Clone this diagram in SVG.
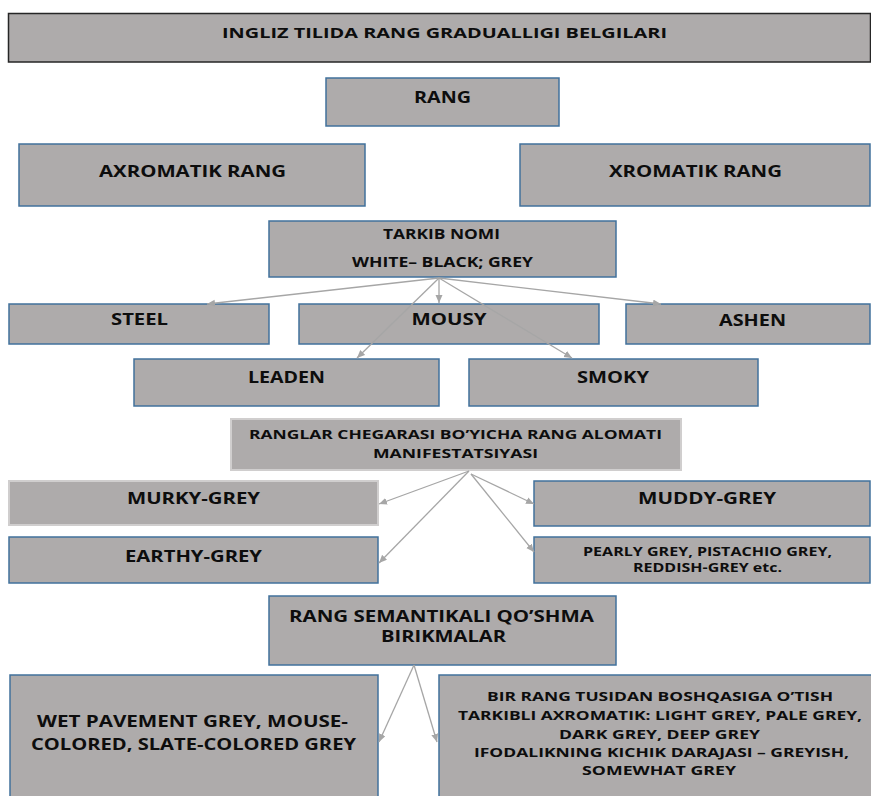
<svg xmlns="http://www.w3.org/2000/svg" width="871" height="796" viewBox="0 0 871 796">
<defs>
<style>
.b{fill:#AEABAB;stroke:#41719C;stroke-width:1.5}
.g{fill:#AEABAB;stroke:#D0CECE;stroke-width:2}
.d{fill:#AEABAB;stroke:#262626;stroke-width:1.5}
text{font-family:"Open Sans","Liberation Sans",sans-serif;font-weight:700;fill:#0D0D0D;text-anchor:middle}
.c line{stroke:#A6A6A6;stroke-width:1.3;marker-end:url(#ah)}
</style>
<marker id="ah" markerUnits="userSpaceOnUse" markerWidth="9" markerHeight="8" refX="8" refY="3.5" orient="auto">
<path d="M0,0 L8,3.5 L0,7 z" fill="#A6A6A6"/>
</marker>
</defs>
<rect width="871" height="796" fill="#FFFFFF"/>
<g id="title"><rect class="d" x="8.5" y="13.5" width="862" height="48.5"/><text x="444.5" y="38.3" font-size="15" textLength="445" lengthAdjust="spacingAndGlyphs">INGLIZ TILIDA RANG GRADUALLIGI BELGILARI</text></g>
<g id="rang"><rect class="b" x="326" y="78" width="233" height="48"/><text x="442.5" y="103" font-size="15.5" textLength="57" lengthAdjust="spacingAndGlyphs">RANG</text></g>
<g id="axromatik"><rect class="b" x="19" y="144" width="346" height="62"/><text x="192.5" y="177" font-size="16" textLength="187" lengthAdjust="spacingAndGlyphs">AXROMATIK RANG</text></g>
<g id="xromatik"><rect class="b" x="520" y="144" width="350" height="62"/><text x="695.5" y="177" font-size="16" textLength="173" lengthAdjust="spacingAndGlyphs">XROMATIK RANG</text></g>
<g id="tarkib"><rect class="b" x="269" y="221" width="347" height="56"/><text x="441.5" y="239" font-size="13.5" textLength="117" lengthAdjust="spacingAndGlyphs">TARKIB NOMI</text><text x="442.5" y="267" font-size="13.5" textLength="181" lengthAdjust="spacingAndGlyphs">WHITE– BLACK; GREY</text></g>
<g id="steel"><rect class="b" x="9" y="304" width="260" height="40"/><text x="139.5" y="325" font-size="15.5" textLength="57" lengthAdjust="spacingAndGlyphs">STEEL</text></g>
<g id="mousy"><rect class="b" x="299" y="304" width="300" height="40"/><text x="449" y="325" font-size="15.5" textLength="75" lengthAdjust="spacingAndGlyphs">MOUSY</text></g>
<g id="ashen"><rect class="b" x="626" y="304" width="244" height="40"/><text x="752.5" y="325.5" font-size="15.5" textLength="67" lengthAdjust="spacingAndGlyphs">ASHEN</text></g>
<g id="leaden"><rect class="b" x="134" y="359" width="305" height="47"/><text x="286.5" y="383" font-size="15.5" textLength="77" lengthAdjust="spacingAndGlyphs">LEADEN</text></g>
<g id="smoky"><rect class="b" x="469" y="359" width="289" height="47"/><text x="613" y="383" font-size="15.5" textLength="72" lengthAdjust="spacingAndGlyphs">SMOKY</text></g>
<g id="ranglar"><rect class="g" x="231" y="419" width="450" height="51"/><text x="455.5" y="439" font-size="12" textLength="413" lengthAdjust="spacingAndGlyphs">RANGLAR CHEGARASI BO’YICHA RANG ALOMATI</text><text x="455.5" y="457.5" font-size="12" textLength="165" lengthAdjust="spacingAndGlyphs">MANIFESTATSIYASI</text></g>
<g id="murky"><rect class="g" x="9" y="481" width="369" height="44"/><text x="193.5" y="504" font-size="15.5" textLength="133" lengthAdjust="spacingAndGlyphs">MURKY-GREY</text></g>
<g id="muddy"><rect class="b" x="534" y="481" width="336" height="45"/><text x="707" y="503.5" font-size="15.5" textLength="138" lengthAdjust="spacingAndGlyphs">MUDDY-GREY</text></g>
<g id="earthy"><rect class="b" x="9" y="537" width="369" height="46"/><text x="193.5" y="562" font-size="15.5" textLength="137" lengthAdjust="spacingAndGlyphs">EARTHY-GREY</text></g>
<g id="pearly"><rect class="b" x="534" y="537" width="336" height="46"/><text x="707.5" y="555.5" font-size="12" textLength="249" lengthAdjust="spacingAndGlyphs">PEARLY GREY, PISTACHIO GREY,</text><text x="707.5" y="572" font-size="12" textLength="149" lengthAdjust="spacingAndGlyphs">REDDISH-GREY etc.</text></g>
<g id="semantika"><rect class="b" x="269" y="596" width="347" height="69"/><text x="441.5" y="622" font-size="15.5" textLength="305" lengthAdjust="spacingAndGlyphs">RANG SEMANTIKALI QO’SHMA</text><text x="443.5" y="642" font-size="15.5" textLength="125" lengthAdjust="spacingAndGlyphs">BIRIKMALAR</text></g>
<g id="wet"><rect class="b" x="10" y="675" width="368" height="130"/><text x="192.5" y="727" font-size="15.5" textLength="311" lengthAdjust="spacingAndGlyphs">WET PAVEMENT GREY, MOUSE-</text><text x="193.5" y="750" font-size="15.5" textLength="325" lengthAdjust="spacingAndGlyphs">COLORED, SLATE-COLORED GREY</text></g>
<g id="bir"><rect class="b" x="439" y="675" width="440" height="130"/><text x="660" y="701" font-size="12.5" textLength="346" lengthAdjust="spacingAndGlyphs">BIR RANG TUSIDAN BOSHQASIGA O’TISH</text><text x="660" y="720" font-size="12.5" textLength="404" lengthAdjust="spacingAndGlyphs">TARKIBLI AXROMATIK: LIGHT GREY, PALE GREY,</text><text x="659.5" y="739" font-size="12.5" textLength="201" lengthAdjust="spacingAndGlyphs">DARK GREY, DEEP GREY</text><text x="661.5" y="757" font-size="12.5" textLength="375" lengthAdjust="spacingAndGlyphs">IFODALIKNING KICHIK DARAJASI – GREYISH,</text><text x="659" y="775" font-size="12.5" textLength="154" lengthAdjust="spacingAndGlyphs">SOMEWHAT GREY</text></g>
<g id="connectors" class="c">
<line x1="439" y1="278" x2="207" y2="304"/>
<line x1="439" y1="278" x2="439" y2="303"/>
<line x1="439" y1="278" x2="661" y2="304"/>
<line x1="439" y1="278" x2="357" y2="358"/>
<line x1="439" y1="278" x2="572" y2="358"/>
<line x1="469" y1="471" x2="379" y2="504"/>
<line x1="469" y1="471" x2="379" y2="563"/>
<line x1="471" y1="474" x2="534" y2="504"/>
<line x1="471" y1="474" x2="534" y2="552"/>
<line x1="414" y1="665" x2="379" y2="742"/>
<line x1="414" y1="665" x2="437" y2="742"/>
</g>
</svg>
